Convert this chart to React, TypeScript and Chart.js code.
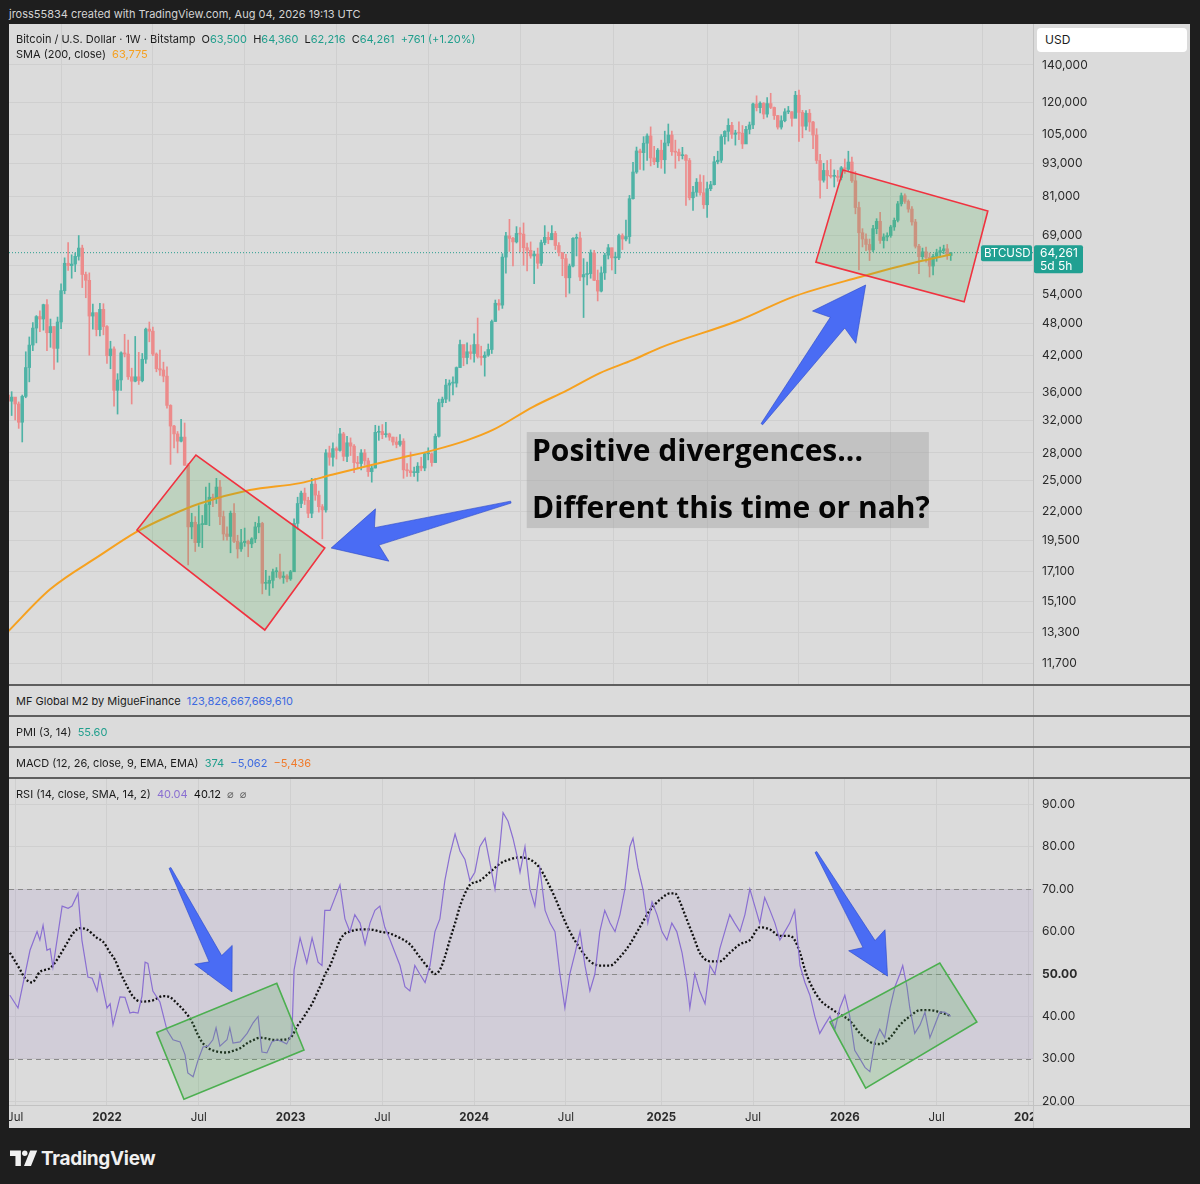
import React, { useEffect, useRef } from 'react';
import { Chart, registerables } from 'chart.js';

Chart.register(...registerables);

const FONT = 'Inter, "Noto Sans", "DejaVu Sans", sans-serif';
Chart.defaults.font.family = FONT;

// ---------------- DATA ----------------
// weekly bars (Bitstamp BTC/USD), values in thousands of USD: [high, low, close]
const FIRST_BAR_UTC = Date.UTC(2021, 5, 21); // Monday of the first weekly bar
const FIRST_OPEN = 35.6;

const bars2021: [number, number, number][] = [
  [35.9, 28.8, 34.7], [36.1, 32.7, 35.3], [35.1, 32.1, 34.3], [34.6, 31.0, 31.8], [35.6, 29.3, 35.4],
  [42.6, 35.2, 39.9], [45.3, 37.6, 43.8], [48.1, 42.8, 47.0], [49.5, 44.2, 49.3], [50.5, 46.3, 48.8],
  [51.9, 46.6, 51.8], [52.9, 42.8, 46.1], [48.8, 43.4, 47.3], [47.3, 39.6, 43.2], [49.2, 40.8, 48.2],
  [56.5, 46.9, 54.9], [62.9, 54.2, 61.5], [67.0, 59.7, 60.9], [63.7, 57.8, 61.3], [64.2, 59.4, 63.3],
  [69.0, 62.3, 65.5], [66.3, 55.6, 58.7], [59.3, 53.3, 57.3], [59.1, 42.0, 49.4], [51.9, 46.8, 50.1],
  [50.1, 45.5, 46.7], [52.1, 45.5, 50.8], [52.0, 45.7, 47.3],
];
const bars2022: [number, number, number][] = [
  [47.5, 40.6, 41.9], [44.5, 39.7, 43.1], [43.5, 34.0, 36.3], [38.9, 32.9, 37.9], [42.6, 36.3, 42.4],
  [45.8, 41.7, 42.2], [44.7, 38.0, 38.4], [39.8, 34.3, 37.7], [45.4, 37.6, 38.4], [42.5, 37.2, 37.8],
  [42.3, 37.6, 41.3], [47.0, 40.6, 46.8], [48.2, 44.4, 46.4], [47.2, 41.9, 42.2], [42.4, 39.2, 39.7],
  [42.9, 38.6, 39.5], [40.8, 37.6, 38.5], [40.0, 33.7, 34.1], [34.2, 26.7, 31.3], [31.4, 28.6, 30.3],
  [30.6, 28.0, 29.4], [32.2, 29.3, 29.9], [31.7, 26.6, 26.6], [26.8, 17.6, 20.6], [21.8, 19.6, 21.0],
  [21.5, 18.6, 19.3], [22.5, 19.0, 20.8], [21.6, 18.9, 20.8], [24.3, 20.8, 22.6], [24.7, 20.7, 23.3],
  [23.6, 22.4, 23.2], [25.2, 22.7, 24.3], [25.0, 20.8, 21.5], [22.0, 19.5, 20.0], [20.6, 19.5, 19.8],
  [22.0, 18.5, 21.8], [22.7, 19.3, 19.4], [19.9, 18.1, 18.8], [20.4, 18.6, 19.3], [20.5, 19.0, 19.4],
  [19.5, 18.2, 19.2], [19.7, 18.9, 19.6], [21.0, 19.3, 20.6], [21.5, 20.1, 20.9], [21.0, 15.6, 16.3],
  [17.2, 15.9, 16.3], [16.8, 15.5, 16.5], [17.3, 16.0, 17.1], [17.4, 16.7, 17.1], [18.4, 16.6, 16.7],
  [17.1, 16.3, 16.8], [16.9, 16.4, 16.6],
];
const bars2023: [number, number, number][] = [
  [17.2, 16.5, 17.1], [21.3, 17.1, 20.9], [23.3, 20.4, 22.7], [23.9, 22.3, 23.7], [24.2, 22.6, 23.0],
  [23.3, 21.4, 21.8], [25.2, 21.4, 24.6], [25.2, 23.0, 23.5], [23.9, 21.9, 22.4], [22.6, 19.6, 22.1],
  [28.4, 21.9, 28.0], [28.8, 26.6, 27.5], [29.2, 26.5, 28.5], [28.7, 27.3, 28.3], [31.0, 28.2, 30.3],
  [30.5, 27.1, 27.6], [30.0, 27.0, 29.2], [29.8, 27.7, 28.8], [29.0, 25.8, 26.9], [27.6, 26.3, 26.8],
  [28.4, 26.1, 28.0], [28.4, 26.6, 27.1], [27.4, 25.4, 25.9], [26.5, 24.8, 26.3], [31.4, 26.3, 30.5],
  [31.3, 29.5, 30.6], [31.5, 29.7, 30.2], [31.8, 29.9, 30.3], [30.4, 29.5, 29.9], [29.9, 28.9, 29.3],
  [29.9, 28.6, 29.0], [30.2, 28.8, 29.4], [29.7, 25.2, 26.1], [26.8, 25.4, 26.0], [28.1, 25.4, 25.8],
  [26.4, 25.4, 25.8], [26.9, 24.9, 26.5], [27.5, 26.0, 26.3], [28.0, 26.0, 27.9], [28.6, 27.2, 27.9],
  [28.0, 26.5, 26.9], [30.3, 26.9, 30.0], [35.0, 29.9, 34.5], [35.3, 33.9, 35.0], [38.0, 34.5, 37.1],
  [37.9, 34.7, 37.4], [38.4, 35.6, 37.4], [40.0, 36.8, 39.9], [44.7, 39.9, 43.9], [43.4, 40.2, 41.6],
  [44.2, 40.5, 42.6], [43.8, 41.3, 42.3],
];
const bars2024: [number, number, number][] = [
  [45.9, 40.8, 43.9], [49.0, 41.5, 41.8], [43.6, 40.3, 41.6], [42.6, 38.5, 42.0], [44.0, 41.8, 43.0],
  [48.6, 42.3, 48.3], [52.8, 48.3, 52.1], [52.9, 50.6, 51.7], [64.0, 51.0, 63.1], [69.9, 59.0, 68.9],
  [73.8, 64.6, 68.2], [68.5, 60.8, 67.2], [71.6, 66.9, 69.6], [71.3, 64.5, 69.4], [72.7, 61.0, 65.6],
  [66.9, 59.6, 64.9], [67.2, 62.8, 63.4], [64.7, 56.5, 63.9], [65.5, 60.2, 61.5], [67.7, 60.9, 67.0],
  [71.9, 66.4, 68.5], [70.0, 66.7, 67.8], [71.9, 68.5, 69.6], [70.2, 65.1, 66.2], [67.0, 63.4, 64.3],
  [63.3, 58.4, 62.7], [63.8, 53.5, 57.9], [61.3, 54.3, 60.8], [68.4, 60.6, 68.2], [69.4, 63.4, 68.3],
  [70.0, 57.2, 58.1], [62.7, 49.1, 58.7], [61.8, 56.2, 58.9], [65.0, 57.8, 64.2], [64.9, 57.2, 57.3],
  [59.8, 52.6, 54.8], [60.6, 54.6, 59.1], [64.1, 57.5, 63.6], [66.5, 62.6, 65.6], [65.5, 59.8, 62.9],
  [64.4, 58.9, 62.9], [69.4, 62.4, 69.0], [69.5, 65.1, 68.0], [73.6, 67.5, 68.7], [81.5, 66.8, 80.4],
  [93.5, 80.2, 89.8], [99.6, 89.3, 98.0], [98.8, 90.8, 97.3], [104.0, 90.5, 101.2], [105.2, 94.2, 104.3],
  [108.3, 92.1, 95.2], [99.9, 92.6, 93.7],
];
const bars2025: [number, number, number][] = [
  [99.0, 91.5, 98.3], [102.5, 91.2, 94.5], [106.4, 89.3, 101.3], [109.6, 100.1, 104.7], [106.4, 96.2, 97.7],
  [102.5, 91.2, 97.5], [98.8, 94.0, 96.1], [99.5, 94.8, 96.3], [96.5, 78.2, 94.2], [95.0, 80.0, 80.7],
  [84.6, 76.6, 82.6], [87.4, 81.2, 86.1], [88.8, 81.6, 82.4], [88.5, 77.2, 78.4], [86.1, 74.4, 83.8],
  [86.4, 83.1, 85.2], [95.8, 85.1, 93.7], [97.9, 92.9, 94.3], [104.9, 93.4, 104.0], [106.6, 100.8, 106.3],
  [112.0, 102.1, 109.0], [110.4, 103.2, 105.0], [106.8, 100.4, 105.6], [110.6, 102.7, 105.5], [108.9, 99.0, 100.9],
  [108.5, 101.0, 107.2], [110.5, 105.2, 109.2], [119.5, 107.5, 119.1], [123.2, 115.7, 117.3], [120.2, 114.7, 119.4],
  [119.8, 112.0, 114.2], [122.3, 112.7, 119.3], [124.5, 116.8, 117.4], [117.6, 111.7, 113.5], [113.6, 107.3, 108.2],
  [113.4, 107.3, 111.1], [116.8, 110.6, 115.3], [117.9, 114.4, 115.3], [115.4, 108.6, 112.2], [125.5, 112.6, 123.5],
  [126.2, 102.0, 115.0], [116.0, 103.5, 108.6], [115.9, 106.9, 114.6], [116.4, 106.3, 110.5], [110.8, 98.9, 104.7],
  [107.5, 93.0, 94.2], [96.6, 80.6, 86.8], [93.1, 86.1, 90.4], [94.2, 83.8, 88.4], [94.6, 87.6, 88.2],
  [90.6, 84.4, 88.3], [90.4, 86.4, 87.8],
];
const bars2026: [number, number, number][] = [
  [91.9, 86.9, 91.4], [94.8, 89.3, 90.8], [97.9, 90.2, 93.6], [95.5, 86.0, 86.6], [90.0, 75.5, 77.5],
  [79.3, 59.8, 69.8], [71.0, 65.8, 68.0], [69.5, 64.8, 66.5], [68.0, 62.2, 65.0], [72.0, 64.5, 71.0],
  [74.0, 69.5, 73.2], [76.0, 66.8, 67.6], [69.5, 65.5, 68.6], [69.8, 67.5, 69.0], [72.0, 68.5, 71.5],
  [74.2, 70.5, 73.5], [79.5, 73.0, 78.7], [82.3, 78.0, 81.4], [82.0, 78.8, 79.5], [80.0, 76.0, 77.0],
  [77.8, 72.0, 73.0], [73.8, 65.5, 66.0], [66.5, 58.9, 63.2], [65.5, 62.5, 64.5], [65.8, 61.8, 63.0],
  [64.2, 58.1, 60.8], [63.8, 58.6, 63.3], [65.2, 62.0, 64.3], [65.8, 63.2, 64.8], [66.3, 64.0, 65.3],
  [66.5, 62.5, 63.5], [64.36, 62.216, 64.261],
];

// SMA(200): [bar index, value in thousands]
const sma200: [number, number][] = [
  [0, 13.35], [11.9, 15.9], [26, 18.3], [36.5, 20.2], [45.9, 21.6], [54.3, 22.7], [68.5, 24.0],
  [82.7, 24.7], [92, 25.6], [111, 27.4], [120.3, 28.3], [129.9, 29.5], [137.3, 30.8], [148.7, 33.9],
  [158.3, 36.3], [167.6, 39.0], [177, 41.2], [184.6, 43.3], [207.3, 48.6], [222.3, 53.5], [241.3, 58.1],
  [257.4, 61.8], [267, 63.775],
];

// RSI(14): [bar index, value]
const rsi14: [number, number][] = [
  [0.5, 45], [2.8, 42], [6.2, 55.6], [8.2, 60], [9, 58], [9.9, 61.5], [11, 55.6], [11.9, 56], [12.7, 51.6],
  [15.3, 66], [17, 65.5], [18.1, 66], [19.8, 69], [20.9, 58], [22.6, 49.3], [23.8, 49], [25.2, 46], [26, 50],
  [28, 42], [28.9, 43], [29.7, 38], [31.7, 44.6], [33.1, 44.5], [34.5, 40.8], [35.4, 41], [36.8, 40.8],
  [37.9, 44.7], [38.8, 52.8], [39.6, 52.5], [41, 46], [43, 43.4], [45, 36.8], [46.7, 34.5], [48.7, 34],
  [50.1, 31], [50.9, 26.7], [52.4, 25.8], [53.8, 29.7], [55.2, 32.8], [56.6, 33], [58, 34.5], [58.9, 37.3],
  [60, 33], [62, 34.5], [62.8, 37.3], [63.7, 33.7], [65.7, 34], [67.7, 36], [69.4, 38.5], [70.8, 40],
  [71.9, 31.6], [73.3, 31.4], [74.7, 34], [76.1, 34.5], [77.8, 34], [78.9, 33.5], [80.4, 36], [81, 51],
  [82.7, 58.5], [84.6, 52.6], [86.1, 58.5], [87.8, 52.8], [88.9, 52], [89.7, 65], [91.2, 65],
  [92.6, 68], [94, 71], [95.4, 63], [96.8, 60], [98.2, 64], [99.7, 62], [101.1, 57], [102.5, 62], [103.9, 65],
  [105.3, 66], [106.7, 61], [108.2, 58], [109.6, 55], [111, 52], [112.4, 47], [113.8, 46], [115.2, 52],
  [116.6, 50], [118.1, 48], [119.5, 52], [120.9, 60], [122.3, 63], [123.7, 72], [125.1, 78], [126.6, 83],
  [128, 79], [129.4, 77], [130.8, 72], [132.2, 74], [133.6, 80], [135.1, 82], [136.5, 76], [137.9, 70],
  [139.3, 80], [140.2, 88], [141.6, 86], [143, 82], [144.1, 78], [145, 74], [146.4, 80], [147.8, 70],
  [149.2, 66], [150.6, 75], [152.1, 65], [153.5, 62], [154.9, 60], [156.3, 50], [157.7, 42], [159.1, 50],
  [160.6, 55], [162, 60], [163.4, 52], [164.8, 46], [166.2, 50], [167.6, 60], [169, 65], [170.5, 62],
  [171.9, 60], [173.3, 64], [174.7, 70], [176.1, 80], [177, 82], [178.4, 75], [179.8, 70], [181.2, 62],
  [182.4, 67], [183.8, 64], [185.2, 60], [186.6, 58], [188, 62], [189.4, 60], [190.9, 55], [192.3, 48],
  [193.1, 42], [194.5, 50], [195.9, 46], [197.4, 43], [198.8, 52], [200.2, 50], [201.6, 56], [203, 60],
  [204.4, 64], [205.8, 62], [207.3, 60], [208.7, 64], [210.1, 70], [211.5, 66], [212.9, 62], [214.3, 68],
  [215.8, 65], [217.2, 62], [218.6, 58], [220, 60], [221.4, 62], [222.8, 65], [224.3, 52], [225.7, 48],
  [227.1, 45], [228.5, 40], [229.9, 36], [231.3, 38], [232.8, 40], [234.2, 37], [235.6, 42], [237, 45],
  [238.4, 40], [239.8, 32], [241.3, 30], [242.7, 28], [244.1, 27], [245.5, 34], [246.9, 37], [248.3, 35],
  [249.8, 42], [251.2, 47], [252.6, 50], [253.4, 52], [254.6, 47], [255.4, 42], [256.8, 36], [258.3, 38],
  [259.7, 41], [261.1, 35], [262.5, 38], [263.9, 41], [265.3, 41], [267, 40.04],
];

// SMA(14) of RSI: [bar index, value]
const rsiSma: [number, number][] = [
  [0.5, 55], [2, 53], [3.4, 51], [4.8, 49], [6.8, 48], [9, 50.5], [11.9, 51.4], [13.8, 53.3], [16.7, 57.3],
  [18.4, 59.6], [20.4, 60.8], [22.3, 60.5], [25.2, 58.5], [26.9, 57.6], [28.9, 55], [30.3, 53.3], [31.7, 50.5],
  [33.1, 48.1], [35.1, 45], [36.5, 43.8], [38.2, 43.5], [41, 43.8], [43.9, 44.8], [45.9, 44.5], [47.8, 43.1],
  [50.1, 41.1], [52.1, 38.7], [53.5, 36.1], [54.9, 34], [56.6, 32.6], [59.2, 31.7], [62, 31.5], [63.7, 31.9],
  [65.7, 32.5], [67.7, 33.7], [69.4, 34.4], [71.3, 35], [73.3, 34.8], [75, 34.5], [77, 34.5], [79, 34.6],
  [80.4, 35.4], [81.8, 37.6], [83.2, 39.2], [84.6, 41], [86.1, 43], [87.5, 45.5], [88.9, 48], [89.7, 49.8],
  [91.2, 52], [92.6, 55], [94, 58], [95.4, 59.5], [96.8, 60], [99.7, 60.5], [102.5, 60.5], [105.3, 60],
  [108.2, 59.5], [111, 58.5], [113.8, 57], [116.6, 54], [119.5, 51], [120.9, 50], [122.3, 51], [123.7, 54],
  [125.1, 58], [126.6, 62], [128, 66], [129.4, 69], [130.8, 71], [133.6, 72], [136.5, 74], [139.3, 76],
  [142.1, 77], [145, 77.5], [147.8, 77], [150.6, 75], [152.6, 72], [154.9, 68], [156.9, 64], [159.1, 60],
  [162, 56], [164.8, 53], [167.6, 52], [170.5, 52], [173.3, 54], [176.1, 57], [178.9, 61], [181.8, 65],
  [184.6, 67.5], [187.5, 69], [188.9, 69], [190.3, 67], [191.7, 64], [193.1, 61], [194.5, 58], [195.9, 55],
  [198.8, 53], [201.6, 53], [204.4, 55], [207.3, 57], [210.1, 58], [212.9, 61], [215.8, 60.5], [218.6, 59],
  [221.4, 59], [222.8, 58], [224.3, 55], [225.7, 51], [227.1, 48], [229.9, 44], [232.8, 42], [235.6, 40.5],
  [238.4, 39], [241.3, 36], [244.1, 34], [246.9, 33.5], [249.8, 35], [252.6, 38], [255.4, 40], [258.3, 41.5],
  [261.1, 41.5], [263.9, 41], [267, 40.12],
];

const priceTicks = [11.7, 13.3, 15.1, 17.1, 19.5, 22, 25, 28, 32, 36, 42, 48, 54, 61, 69, 81, 93, 105, 120, 140];
const rsiTicks = [20, 30, 40, 50, 60, 70, 80, 90];
const timeTickMonths: [number, number][] = [
  [2021, 6], [2022, 0], [2022, 6], [2023, 0], [2023, 6], [2024, 0], [2024, 6], [2025, 0], [2025, 6],
  [2026, 0], [2026, 6], [2027, 0],
];
const timeTickLabels = ['Jul', '2022', 'Jul', '2023', 'Jul', '2024', 'Jul', '2025', 'Jul', '2026', 'Jul', '2027'];

// annotations, in data coordinates (bar index, price in thousands / RSI value)
const priceBoxes: [number, number][][] = [
  [[36.5, 20.33], [53.2, 27.75], [89.7, 18.87], [72.7, 13.43]],
  [[236.5, 90.55], [277.5, 76.4], [270.8, 52.4], [228.8, 61.8]],
];
const priceArrows: { from: [number, number]; to: [number, number] }[] = [
  { from: [142.4, 22.83], to: [91.5, 18.87] },
  { from: [213.5, 31.55], to: [242.9, 56.2] },
];
const noteBox = { from: [146.9, 30.53], to: [260.8, 20.5] };
const noteLines: { text: string; at: [number, number] }[] = [
  { text: 'Positive divergences...', at: [148.4, 28.1] },
  { text: 'Different this time or nah?', at: [148.4, 22.1] },
];
const rsiBoxes: [number, number][][] = [
  [[42.1, 36.2], [76.1, 47.8], [83.8, 32.1], [49.8, 20.5]],
  [[232.8, 38.7], [263.9, 52.6], [274.4, 38.7], [242.9, 23.1]],
];
const rsiArrows: { from: [number, number]; to: [number, number] }[] = [
  { from: [45.85, 75.0], to: [63.4, 45.8] },
  { from: [228.8, 78.75], to: [249.1, 49.5] },
];

// ---------------- derived ----------------
const allBars = [...bars2021, ...bars2022, ...bars2023, ...bars2024, ...bars2025, ...bars2026];
const candles = allBars.map(([h, l, c], i) => ({ i, o: i === 0 ? FIRST_OPEN : allBars[i - 1][2], h, l, c }));
const last = candles[candles.length - 1];
const prevClose = candles[candles.length - 2].c;

const DAY = 86400000;
function firstBarOfMonth(y: number, m: number) {
  const first = Date.UTC(y, m, 1);
  const dow = new Date(first).getUTCDay();
  const monday = first + ((1 - dow + 7) % 7) * DAY;
  return Math.round((monday - FIRST_BAR_UTC) / (7 * DAY));
}
const timeTicks = timeTickMonths.map(([y, m]) => firstBarOfMonth(y, m));

const fmtK = (v: number) => Math.round(v * 1000).toLocaleString('en-US');

// ---------------- styles ----------------
const BG = '#dbdbdb';
const GRID = '#cfcfcf';
const AXIS_LINE = '#c2c2c2';
const UP = '#4fb3a6';
const DOWN = '#ec8b8b';
const TEAL = '#1f9e8c';
const TEXT = '#2a2a2a';
const X_RANGE = [0.25, 290.3];
const PRICE_RANGE = [10.69, 165.96];
const RSI_RANGE = [19.13, 95.96];

function polyPath(ctx: CanvasRenderingContext2D, pts: number[][]) {
  ctx.beginPath();
  pts.forEach(([px, py], k) => (k ? ctx.lineTo(px, py) : ctx.moveTo(px, py)));
  ctx.closePath();
}

function drawArrow(ctx: CanvasRenderingContext2D, x0: number, y0: number, x1: number, y1: number,
  headLen: number, headHalf: number, shaftHalf: number, color: string) {
  const dx = x1 - x0, dy = y1 - y0, L = Math.hypot(dx, dy);
  const ux = dx / L, uy = dy / L, nx = -uy, ny = ux;
  const bx = x1 - ux * headLen, by = y1 - uy * headLen;
  const barbX = bx - ux * headLen * 0.12, barbY = by - uy * headLen * 0.12;
  const pts = [
    [x0 + nx * 1, y0 + ny * 1],
    [bx + nx * shaftHalf, by + ny * shaftHalf],
    [barbX + nx * headHalf, barbY + ny * headHalf],
    [x1, y1],
    [barbX - nx * headHalf, barbY - ny * headHalf],
    [bx - nx * shaftHalf, by - ny * shaftHalf],
    [x0 - nx * 1, y0 - ny * 1],
  ];
  polyPath(ctx, pts);
  ctx.fillStyle = color;
  ctx.fill();
  ctx.strokeStyle = 'rgba(40,70,200,0.6)';
  ctx.lineWidth = 1;
  ctx.stroke();
}

const noPad = (s: any) => { s.paddingTop = 0; s.paddingBottom = 0; s.paddingLeft = 0; s.paddingRight = 0; };

const mainOverlay = {
  id: 'mainOverlay',
  afterDatasetsDraw(chart: any) {
    const { ctx, chartArea: a, scales: { x, y } } = chart;
    const P = (pt: number[]) => [x.getPixelForValue(pt[0]), y.getPixelForValue(pt[1])];
    ctx.save();
    ctx.beginPath();
    ctx.rect(a.left, a.top, a.width, a.height);
    ctx.clip();
    for (const box of priceBoxes) {
      polyPath(ctx, box.map(P));
      ctx.fillStyle = 'rgba(76,175,80,0.2)';
      ctx.fill();
      ctx.strokeStyle = '#f0323f';
      ctx.lineWidth = 1.6;
      ctx.stroke();
    }
    const [bx0, by0] = P(noteBox.from);
    const [bx1, by1] = P(noteBox.to);
    ctx.fillStyle = 'rgba(150,150,150,0.35)';
    ctx.fillRect(bx0, by0, bx1 - bx0, by1 - by0);
    ctx.fillStyle = '#050505';
    ctx.font = 'bold 30px "Open Sans", "Noto Sans", sans-serif';
    ctx.textBaseline = 'middle';
    ctx.textAlign = 'left';
    for (const ln of noteLines) {
      const [tx, ty] = P(ln.at);
      ctx.fillText(ln.text, tx, ty);
    }
    for (const ar of priceArrows) {
      const [x0, y0] = P(ar.from);
      const [x1, y1] = P(ar.to);
      drawArrow(ctx, x0, y0, x1, y1, 47, 27, 9, '#4a6cf4');
    }
    ctx.restore();

    // last price tags
    const py = y.getPixelForValue(last.c);
    ctx.save();
    ctx.fillStyle = '#21a092';
    ctx.beginPath();
    ctx.roundRect(a.right - 52, py - 7.5, 51, 16, 2);
    ctx.fill();
    ctx.beginPath();
    ctx.roundRect(a.right + 1, py - 7.5, 49, 28, 2);
    ctx.fill();
    ctx.fillStyle = '#ffffff';
    ctx.font = '11.5px ' + FONT;
    ctx.textBaseline = 'middle';
    ctx.textAlign = 'left';
    ctx.fillText('BTCUSD', a.right - 49, py + 0.5);
    ctx.font = '12px ' + FONT;
    ctx.fillText(fmtK(last.c), a.right + 7, py + 0.5);
    ctx.fillText('5d 5h', a.right + 7, py + 13.5);
    ctx.restore();
  },
};

const rsiOverlay = {
  id: 'rsiOverlay',
  beforeDatasetsDraw(chart: any) {
    const { ctx, chartArea: a, scales: { y } } = chart;
    const y70 = y.getPixelForValue(70), y30 = y.getPixelForValue(30), y50 = y.getPixelForValue(50);
    ctx.save();
    ctx.fillStyle = 'rgba(126,87,194,0.1)';
    ctx.fillRect(a.left, y70, a.width, y30 - y70);
    ctx.strokeStyle = '#8a8a8a';
    ctx.lineWidth = 1;
    ctx.setLineDash([5, 4]);
    for (const yy of [y70, y50, y30]) {
      ctx.beginPath();
      ctx.moveTo(a.left, Math.round(yy) + 0.5);
      ctx.lineTo(a.right, Math.round(yy) + 0.5);
      ctx.stroke();
    }
    ctx.restore();
  },
  afterDatasetsDraw(chart: any) {
    const { ctx, chartArea: a, scales: { x, y } } = chart;
    const P = (pt: number[]) => [x.getPixelForValue(pt[0]), y.getPixelForValue(pt[1])];
    ctx.save();
    ctx.beginPath();
    ctx.rect(a.left, a.top, a.width, a.height);
    ctx.clip();
    for (const box of rsiBoxes) {
      polyPath(ctx, box.map(P));
      ctx.fillStyle = 'rgba(76,175,80,0.22)';
      ctx.fill();
      ctx.strokeStyle = '#4caf50';
      ctx.lineWidth = 1.6;
      ctx.stroke();
    }
    for (const ar of rsiArrows) {
      const [x0, y0] = P(ar.from);
      const [x1, y1] = P(ar.to);
      drawArrow(ctx, x0, y0, x1, y1, 37, 21, 7, '#4a6cf4');
    }
    ctx.restore();
  },
  afterDraw(chart: any) {
    const { ctx, chartArea: a, width, height } = chart;
    ctx.save();
    ctx.fillStyle = BG;
    ctx.fillRect(a.right + 1, a.bottom + 1, width - a.right, height - a.bottom);
    ctx.fillStyle = AXIS_LINE;
    ctx.fillRect(0, Math.round(a.bottom), width, 1);
    ctx.fillRect(Math.round(a.right), 0, 1, height);
    ctx.restore();
  },
};

export default function App() {
  const mainRef = useRef<HTMLCanvasElement>(null);
  const rsiRef = useRef<HTMLCanvasElement>(null);

  useEffect(() => {
    const candleColors = candles.map((c) => (c.c >= c.o ? UP : DOWN));
    const main = new Chart(mainRef.current!, {
      type: 'bar',
      data: {
        datasets: [
          {
            type: 'bar',
            data: candles.map((c) => ({ x: c.i, y: [c.l, c.h] })) as any,
            backgroundColor: candleColors,
            barThickness: 1,
            grouped: false,
            borderWidth: 0,
            order: 3,
          },
          {
            type: 'bar',
            data: candles.map((c) => ({ x: c.i, y: [Math.min(c.o, c.c), Math.max(c.o, c.c)] })) as any,
            backgroundColor: candleColors,
            barThickness: 2.8,
            minBarLength: 1,
            grouped: false,
            borderWidth: 0,
            order: 2,
          },
          {
            type: 'line',
            data: sma200.map(([i, v]) => ({ x: i, y: v })),
            borderColor: '#f6a11f',
            borderWidth: 2,
            pointRadius: 0,
            cubicInterpolationMode: 'monotone',
            order: 1,
          },
          {
            type: 'line',
            data: [{ x: X_RANGE[0], y: last.c }, { x: X_RANGE[1], y: last.c }],
            borderColor: '#2a9d8f',
            borderWidth: 1,
            borderDash: [1, 2],
            pointRadius: 0,
            order: 4,
          },
        ],
      },
      options: {
        animation: false,
        responsive: false,
        devicePixelRatio: 1,
        layout: { padding: 0, autoPadding: false },
        events: [],
        plugins: { legend: { display: false }, tooltip: { enabled: false } },
        scales: {
          x: {
            type: 'linear',
            min: X_RANGE[0],
            max: X_RANGE[1],
            offset: false,
            ticks: { display: false },
            grid: { color: GRID, drawTicks: false },
            border: { display: false },
            afterBuildTicks: (s: any) => { s.ticks = timeTicks.map((v) => ({ value: v })); },
            afterFit: (s: any) => { s.height = 0; noPad(s); },
          },
          y: {
            type: 'logarithmic',
            position: 'right',
            min: PRICE_RANGE[0],
            max: PRICE_RANGE[1],
            afterBuildTicks: (s: any) => { s.ticks = priceTicks.map((v) => ({ value: v })); },
            afterFit: (s: any) => { s.width = 157; noPad(s); },
            ticks: {
              autoSkip: false,
              padding: 9,
              color: TEXT,
              font: { size: 12 },
              callback: (v: any) => fmtK(Number(v)),
            },
            grid: { color: GRID, drawTicks: false },
            border: { display: true, color: AXIS_LINE },
          },
        },
      } as any,
      plugins: [mainOverlay],
    });

    const rsi = new Chart(rsiRef.current!, {
      type: 'line',
      data: {
        datasets: [
          {
            data: rsi14.map(([i, v]) => ({ x: i, y: v })),
            borderColor: '#8a6fd1',
            borderWidth: 1.2,
            pointRadius: 0,
          },
          {
            data: rsiSma.map(([i, v]) => ({ x: i, y: v })),
            borderColor: '#111111',
            borderWidth: 2.3,
            borderDash: [2, 2],
            pointRadius: 0,
            cubicInterpolationMode: 'monotone',
          },
        ],
      },
      options: {
        animation: false,
        responsive: false,
        devicePixelRatio: 1,
        layout: { padding: 0, autoPadding: false },
        events: [],
        plugins: { legend: { display: false }, tooltip: { enabled: false } },
        scales: {
          x: {
            type: 'linear',
            min: X_RANGE[0],
            max: X_RANGE[1],
            offset: false,
            afterBuildTicks: (s: any) => { s.ticks = timeTicks.map((v) => ({ value: v })); },
            afterFit: (s: any) => { s.height = 23; noPad(s); },
            ticks: {
              autoSkip: false,
              maxRotation: 0,
              padding: 6,
              color: TEXT,
              font: (c: any) => ({ size: 11.5, weight: /^\d/.test(timeTickLabels[c.index] || '') ? 'bold' : 'normal' }),
              callback: (_v: any, idx: number) => timeTickLabels[idx],
            },
            grid: { color: GRID, drawTicks: false },
            border: { display: false },
          },
          y: {
            type: 'linear',
            position: 'right',
            min: RSI_RANGE[0],
            max: RSI_RANGE[1],
            afterBuildTicks: (s: any) => { s.ticks = rsiTicks.map((v) => ({ value: v })); },
            afterFit: (s: any) => { s.width = 157; noPad(s); },
            ticks: {
              autoSkip: false,
              padding: 9,
              color: TEXT,
              font: (c: any) => ({ size: 12, weight: rsiTicks[c.index] === 50 ? 'bold' : 'normal' }),
              callback: (v: any) => Number(v).toFixed(2),
            },
            grid: { color: GRID, drawTicks: false },
            border: { display: true, color: AXIS_LINE },
          },
        },
      } as any,
      plugins: [rsiOverlay],
    });

    return () => {
      main.destroy();
      rsi.destroy();
    };
  }, []);

  const legendText: React.CSSProperties = { position: 'absolute', left: 16, fontSize: 11, color: '#1c1c1c', whiteSpace: 'pre', lineHeight: '14px' };
  const sep = (top: number): React.CSSProperties => ({ position: 'absolute', left: 9, top, width: 1181, height: 2, background: '#5e5e5e' });
  const change = last.c - prevClose;

  return (
    <div style={{ position: 'absolute', left: 0, top: 0, width: 1200, height: 1184, background: '#1e1e1e', overflow: 'hidden', fontFamily: FONT }}>
      <div style={{ position: 'absolute', left: 9, top: 7, fontSize: 11, color: '#d4d4d4', whiteSpace: 'pre' }}>
        jross55834 created with TradingView.com, Aug 04, 2026 19:13 UTC
      </div>
      <div style={{ position: 'absolute', left: 9, top: 24, width: 1181, height: 1104, background: BG }} />
      <canvas ref={mainRef} width={1181} height={661} style={{ position: 'absolute', left: 9, top: 24, width: 1181, height: 661 }} />
      <canvas ref={rsiRef} width={1181} height={349} style={{ position: 'absolute', left: 9, top: 779, width: 1181, height: 349 }} />
      <div style={{ position: 'absolute', left: 1033, top: 685, width: 1, height: 94, background: AXIS_LINE }} />
      <div style={sep(684)} />
      <div style={sep(715)} />
      <div style={sep(746)} />
      <div style={sep(777)} />

      <div style={{ ...legendText, top: 32 }}>
        {'Bitcoin / U.S. Dollar · 1W · Bitstamp  O'}
        <span style={{ color: TEAL }}>{fmtK(last.o)}</span>{'  H'}
        <span style={{ color: TEAL }}>{fmtK(last.h)}</span>{'  L'}
        <span style={{ color: TEAL }}>{fmtK(last.l)}</span>{'  C'}
        <span style={{ color: TEAL }}>{fmtK(last.c)}</span>{'  '}
        <span style={{ color: TEAL }}>{`+${fmtK(change)} (+${((change / prevClose) * 100).toFixed(2)}%)`}</span>
      </div>
      <div style={{ ...legendText, top: 47 }}>
        {'SMA (200, close)  '}
        <span style={{ color: '#f5a020' }}>{fmtK(sma200[sma200.length - 1][1])}</span>
      </div>
      <div style={{ position: 'absolute', left: 1037, top: 28, width: 150, height: 24, background: '#ffffff', borderRadius: 4, fontSize: 12, color: '#1c1c1c', lineHeight: '24px', paddingLeft: 8, boxSizing: 'border-box' }}>USD</div>

      <div style={{ ...legendText, top: 694 }}>
        {'MF Global M2 by MigueFinance  '}
        <span style={{ color: '#3d6ae0' }}>123,826,667,669,610</span>
      </div>
      <div style={{ ...legendText, top: 725 }}>
        {'PMI (3, 14)  '}
        <span style={{ color: TEAL }}>55.60</span>
      </div>
      <div style={{ ...legendText, top: 756 }}>
        {'MACD (12, 26, close, 9, EMA, EMA)  '}
        <span style={{ color: TEAL }}>374</span>{'  '}
        <span style={{ color: '#3d6ae0' }}>−5,062</span>{'  '}
        <span style={{ color: '#f07a2a' }}>−5,436</span>
      </div>
      <div style={{ ...legendText, top: 787 }}>
        {'RSI (14, close, SMA, 14, 2)  '}
        <span style={{ color: '#8a6fd1' }}>{rsi14[rsi14.length - 1][1].toFixed(2)}</span>{'  '}
        <span style={{ color: '#111' }}>{rsiSma[rsiSma.length - 1][1].toFixed(2)}</span>{'  '}
        <span style={{ color: '#666' }}>⌀  ⌀</span>
      </div>

      <div style={{ position: 'absolute', left: 10, top: 1147, display: 'flex', alignItems: 'center' }}>
        <svg width="28" height="18" viewBox="0 0 36 22">
          <path d="M0 0H14V20H7V7H0Z" fill="#f0f0f0" />
          <circle cx="19" cy="3.5" r="3.5" fill="#f0f0f0" />
          <path d="M26 0H35L27 20H18Z" fill="#f0f0f0" />
        </svg>
        <span style={{ marginLeft: 3, color: '#f0f0f0', fontSize: 19, fontWeight: 700, letterSpacing: -0.3 }}>TradingView</span>
      </div>
    </div>
  );
}
